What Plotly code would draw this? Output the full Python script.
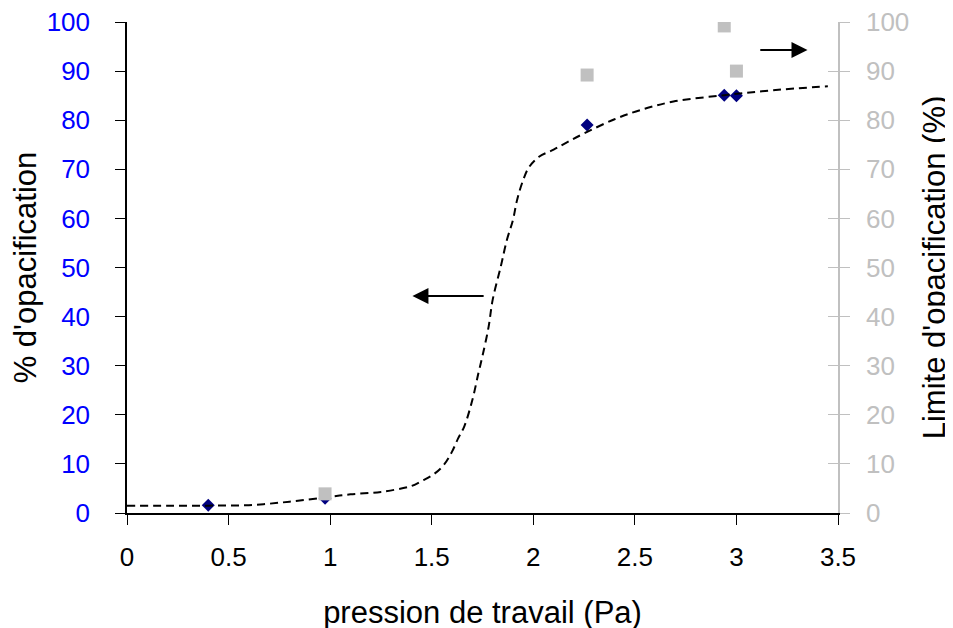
import plotly.graph_objects as go

# Measured data (% d'opacification, left axis)
opac_x = [0.40, 0.975, 2.265, 2.94, 3.00]
opac_y = [1.6, 3.0, 79.0, 85.1, 85.0]

# Limite d'opacification (right axis)
lim_x = [0.975, 2.265, 2.94, 3.00]
lim_y = [3.9, 89.2, 99.2, 90.0]

# Dashed trend curve
curve_x = [0, 0.2, 0.4, 0.6, 0.8, 0.98, 1.1, 1.25, 1.4, 1.45, 1.51, 1.56, 1.6, 1.63,
           1.66, 1.7, 1.73, 1.75, 1.78, 1.8, 1.84, 1.87, 1.9, 1.92, 1.95, 1.98, 2.03,
           2.1, 2.17, 2.25, 2.4, 2.53, 2.69, 2.94, 3.18, 3.45]
curve_y = [1.5, 1.5, 1.5, 1.6, 2.3, 3.2, 3.8, 4.3, 5.5, 6.5, 7.9, 9.8, 12.5, 15.2,
           17.6, 23.0, 28.5, 32.0, 37.9, 43.4, 50.2, 55.6, 59.7, 63.7, 67.8, 70.5, 72.6,
           74.0, 75.6, 77.3, 80.2, 82.1, 83.8, 85.1, 86.1, 86.9]

y_ticks = list(range(0, 101, 10))
x_ticks = [0, 0.5, 1, 1.5, 2, 2.5, 3, 3.5]
x_labels = ["0", "0.5", "1", "1.5", "2", "2.5", "3", "3.5"]

FONT = "Liberation Sans, Arial, sans-serif"
GRAY = "#C0C0C0"

fig = go.Figure()
fig.add_trace(go.Scatter(x=opac_x, y=opac_y, mode="markers", yaxis="y",
                         marker=dict(symbol="diamond", size=10, color="#000080"),
                         showlegend=False))
fig.add_trace(go.Scatter(x=lim_x, y=lim_y, mode="markers", yaxis="y2",
                         marker=dict(symbol="square", size=13, color=GRAY),
                         showlegend=False))
fig.add_trace(go.Scatter(x=curve_x, y=curve_y, mode="lines", yaxis="y",
                         line=dict(color="black", width=2, dash="8px,5px", shape="spline"),
                         showlegend=False))
# invisible trace to materialise the inside-tick overlay axis
fig.add_trace(go.Scatter(x=[0], y=[0], mode="markers", yaxis="y3",
                         marker=dict(opacity=0), showlegend=False, hoverinfo="skip"))

fig.update_layout(
    width=953, height=628,
    margin=dict(l=119, r=123, t=14, b=123),
    plot_bgcolor="white", paper_bgcolor="white",
    font=dict(family=FONT, size=26, color="black"),
    xaxis=dict(range=[0, 3.5], tickvals=x_ticks, ticktext=x_labels, automargin=False,
               showline=True, linecolor="black", linewidth=1.5,
               ticks="outside", ticklen=10, tickcolor="black", showgrid=False,
               zeroline=False, tickfont=dict(size=26), ticklabelstandoff=10,
               ticklabeloverflow="allow",
               title=dict(text="pression de travail (Pa)", font=dict(size=31), standoff=30)),
    yaxis=dict(range=[0, 100], tickvals=y_ticks, showline=True, linecolor="black",
               automargin=False, linewidth=1.5, ticks="outside", ticklen=10, tickcolor="black",
               showgrid=False, zeroline=False, tickfont=dict(size=26, color="#0000FF"),
               ticklabelstandoff=20, ticklabeloverflow="allow",
               title=dict(text="% d'opacification", font=dict(size=31), standoff=17)),
    yaxis2=dict(range=[0, 100], tickvals=y_ticks, overlaying="y", side="right",
                automargin=False, anchor="x", showline=True, linecolor=GRAY, linewidth=1.5,
                ticks="outside", ticklen=10, tickcolor=GRAY, showgrid=False,
                zeroline=False, tickfont=dict(size=26, color=GRAY), ticklabelstandoff=11,
                ticklabeloverflow="allow",
                title=dict(text="Limite d'opacification (%)", font=dict(size=31), standoff=15)),
    yaxis3=dict(range=[0, 100], tickvals=y_ticks, overlaying="y", side="right",
                automargin=False, anchor="x", showline=False, ticks="inside", ticklen=10,
                tickcolor=GRAY, showticklabels=False, showgrid=False, zeroline=False),
    annotations=[
        dict(x=1.405, y=44.2, ax=1.763, ay=44.2, xref="x", yref="y", axref="x", ayref="y",
             showarrow=True, arrowhead=2, arrowsize=1.6, arrowwidth=2, arrowcolor="black",
             text=""),
        dict(x=3.35, y=94.3, ax=3.11, ay=94.3, xref="x", yref="y", axref="x", ayref="y",
             showarrow=True, arrowhead=2, arrowsize=1.6, arrowwidth=2, arrowcolor="black",
             text=""),
    ],
)

fig.write_html("out.html")
